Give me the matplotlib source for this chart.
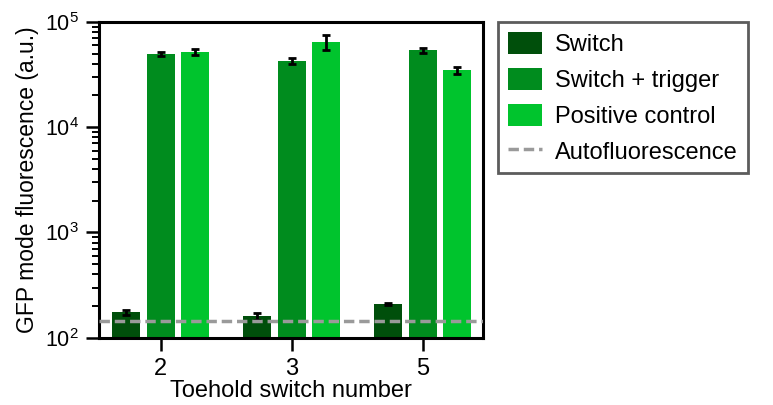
import numpy as np
from matplotlib import pyplot as plt
from matplotlib.lines import Line2D
from matplotlib.patches import Patch

plt.rcParams['font.family'] = ['Liberation Sans', 'DejaVu Sans']
plt.rcParams['mathtext.fontset'] = 'custom'
plt.rcParams['mathtext.rm'] = 'Liberation Sans'
plt.rcParams['mathtext.it'] = 'Liberation Sans:italic'
plt.rcParams['mathtext.bf'] = 'Liberation Sans:bold'

# データ
switch_numbers = ['2', '3', '5']
series_names = ['Switch', 'Switch + trigger', 'Positive control']
switch_vals = [174, 161, 209]
switch_err = [10, 12, 4]
trigger_vals = [49400, 42500, 53900]
trigger_err = [2000, 2500, 3000]
positive_vals = [51600, 64300, 34800]
positive_err = [3500, 10000, 2500]
autofluorescence = 143

colors = ['#004f0b', '#008c1e', '#00c42d']
auto_color = '#9a9a9a'
dash = (0, (3, 1.4))

# グラフ作成
fig = plt.figure(figsize=(7.73, 4.05), dpi=100)
ax = fig.add_axes([0.128, 0.166, 0.497, 0.780])

x = np.arange(len(switch_numbers))
width = 0.214
pitch = 0.263
values = [switch_vals, trigger_vals, positive_vals]
errors = [switch_err, trigger_err, positive_err]
for i in range(3):
    ax.bar(x + (i - 1) * pitch, values[i], width, bottom=0, color=colors[i],
           yerr=errors[i], capsize=3,
           error_kw=dict(elinewidth=2, capthick=2, ecolor='black'),
           zorder=2)

ax.axhline(autofluorescence, color=auto_color, lw=2.5, ls=dash, zorder=3)

ax.set_yscale('log')
ax.set_ylim(100, 1e5)
ax.set_xlim(-0.47, 2.46)
ax.set_xticks(x)
ax.set_xticklabels(switch_numbers, fontsize=17)
ax.set_yticks([1e2, 1e3, 1e4, 1e5])
ax.set_yticklabels([r'$\mathregular{10^{%d}}$' % k for k in range(2, 6)], fontsize=15.5)

for s in ax.spines.values():
    s.set_linewidth(2.2)
ax.tick_params(axis='both', which='major', direction='out', length=9.5, width=1.8, pad=5)
ax.tick_params(axis='y', which='minor', direction='out', length=5, width=1.4)

ax.set_xlabel('Toehold switch number', fontsize=17, labelpad=0)
ax.set_ylabel('GFP mode fluorescence (a.u.)', fontsize=16.5, labelpad=4)

# 凡例
handles = [Patch(facecolor=c, edgecolor='none') for c in colors]
handles.append(Line2D([0], [0], color=auto_color, lw=2.5, ls=dash))
leg = fig.legend(handles, series_names + ['Autofluorescence'],
                 loc='upper left', bbox_to_anchor=(0.644, 0.946),
                 fontsize=17, frameon=True, fancybox=False,
                 handlelength=1.45, handleheight=1.06, handletextpad=0.55,
                 labelspacing=0.5, borderpad=0.42, borderaxespad=0)
leg.get_frame().set_edgecolor('#333333')
leg.get_frame().set_linewidth(2)

fig.savefig('out.png', dpi=100)
